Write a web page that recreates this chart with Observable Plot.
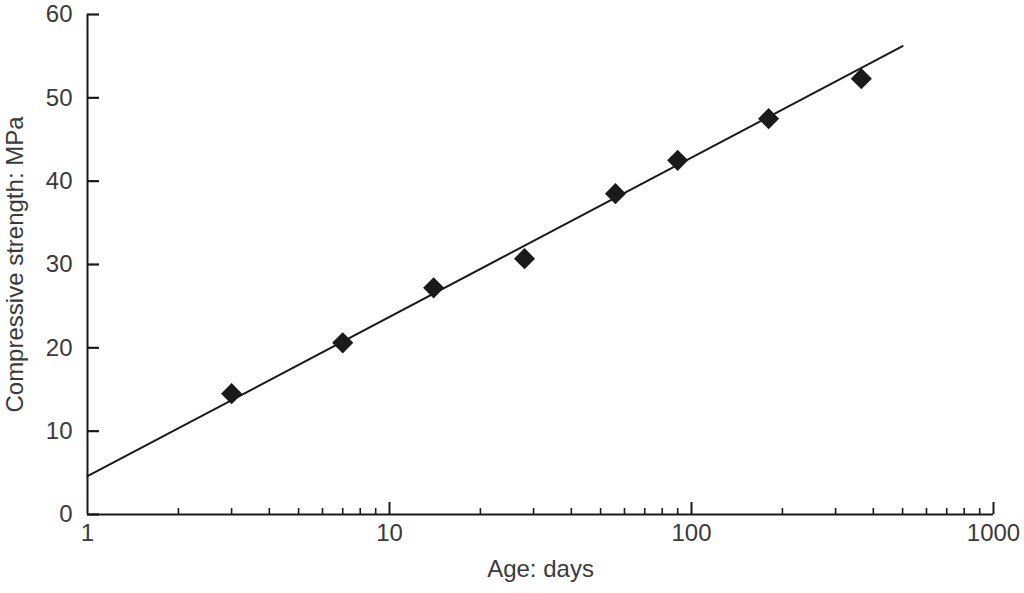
<!DOCTYPE html>
<html>
<head>
<meta charset="utf-8">
<script src="https://cdn.jsdelivr.net/npm/d3@7"></script>
<script src="https://cdn.jsdelivr.net/npm/@observablehq/plot@0.6"></script>
<style>
  html, body { margin: 0; padding: 0; background: #fff; }
</style>
</head>
<body>
<div id="chart"></div>
<script>
// Measured data: age (days) vs compressive strength (MPa)
const ages = [3, 7, 14, 28, 56, 90, 180, 365];
const strengths = [14.5, 20.6, 27.2, 30.7, 38.5, 42.5, 47.5, 52.3];

// Fitted trend line end points
const fitAges = [1, 500];
const fitStrengths = [4.6, 56.2];

// Tick values
const yTicks = [0, 10, 20, 30, 40, 50, 60];
const xMajorTicks = [1, 10, 100, 1000];
const xMinorTicks = [2,3,4,5,6,7,8,9,20,30,40,50,60,70,80,90,200,300,400,500,600,700,800,900];

const points = ages.map((a, i) => ({age: a, strength: strengths[i]}));
const fit = fitAges.map((a, i) => ({age: a, strength: fitStrengths[i]}));

const ink = "#1a1a1a";
const textInk = "#3a3a3a";

const chart = Plot.plot({
  width: 1024,
  height: 593,
  marginLeft: 87,
  marginRight: 31,
  marginTop: 14,
  marginBottom: 79,
  style: {fontFamily: "'Liberation Sans', Arial, Helvetica, sans-serif", fontSize: "24px", color: textInk, background: "#fff"},
  x: {type: "log", domain: [1, 1000]},
  y: {domain: [0, 60]},
  marks: [
    Plot.axisY(yTicks, {tickSize: 0, tickPadding: 15, label: "Compressive strength: MPa", labelAnchor: "center", labelArrow: "none", labelOffset: 82, fill: textInk, fontSize: 24}),
    Plot.axisX(xMajorTicks, {tickSize: 0, tickPadding: 9, tickFormat: d => String(d), label: "Age: days", labelAnchor: "center", labelArrow: "none", labelOffset: 62, fill: textInk, fontSize: 24}),
    Plot.ruleX([1], {stroke: ink, strokeWidth: 2}),
    Plot.ruleY([0], {stroke: ink, strokeWidth: 2}),
    Plot.tickY(yTicks, {y: d => d, stroke: ink, strokeWidth: 2.2, insetRight: 906 - 12}),
    Plot.tickX(xMajorTicks.slice(1), {x: d => d, stroke: ink, strokeWidth: 2, insetTop: 500 - 12}),
    Plot.tickX(xMinorTicks, {x: d => d, stroke: ink, strokeWidth: 1.6, insetTop: 500 - 6}),
    Plot.line(fit, {x: "age", y: "strength", stroke: ink, strokeWidth: 2}),
    Plot.dot(points, {x: "age", y: "strength", symbol: "diamond2", r: 9.5, fill: ink, stroke: "none"})
  ]
});
document.getElementById("chart").appendChild(chart);
</script>
</body>
</html>
